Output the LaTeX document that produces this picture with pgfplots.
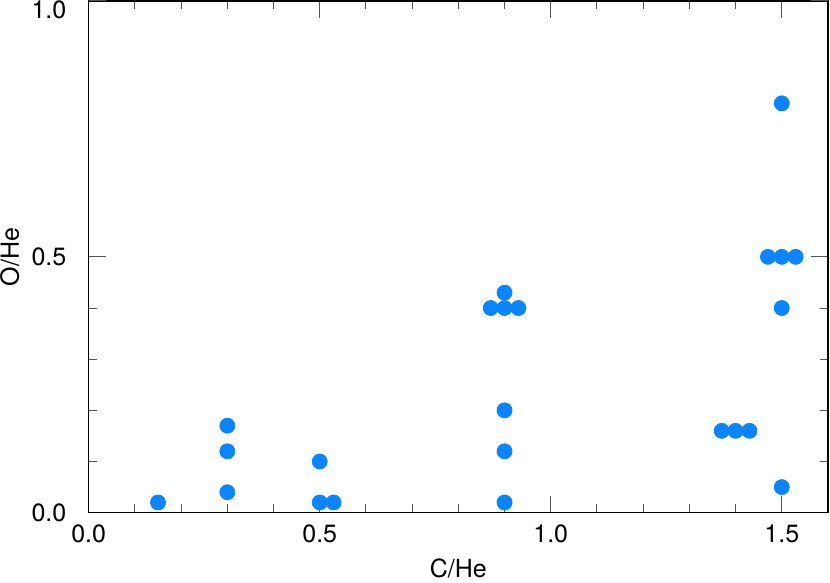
\documentclass[border=0pt]{standalone}
\usepackage{fontspec}
\setmainfont{TeX Gyre Heros}
\usepackage{pgfplots}
\pgfplotsset{compat=1.18}
\definecolor{dot}{HTML}{0A84FF}
\definecolor{tk}{HTML}{555555}

\begin{document}
\begin{tikzpicture}
\begin{axis}[scale only axis,width=369.65pt,height=255.85pt,
  xmin=0,xmax=1.6,ymin=0,ymax=1,
  xtick={0,0.5,1,1.5},ytick={0,0.5},minor x tick num=4,minor y tick num=4,
  extra y ticks={1},extra y tick style={yticklabel style={yshift=-4.5pt}},
  tick align=inside,major tick length=8.5pt,minor tick length=4.25pt,
  tick style={tk,line width=0.5pt},axis line style={black,line width=0.7pt},
  font=\fontsize{12.5}{15}\selectfont,
  /pgf/number format/assume math mode=true,
  /pgf/number format/.cd,fixed,fixed zerofill,precision=1,/pgfplots/.cd,
  xticklabel style={inner sep=0pt,yshift=-6pt},
  yticklabel style={inner sep=0pt,xshift=-11pt},
  xlabel={C/He},ylabel={O/He},
  xlabel style={at={(axis description cs:0.5,0)},anchor=base,yshift=-32.6pt},
  ylabel style={at={(axis description cs:-0.0946,0.5)},anchor=base},
  clip=false]
\addplot[dot,only marks,mark=*,mark size=3.75pt,mark options={fill=dot,draw=dot}] coordinates {
  (0.15,0.02)
  (0.3,0.04)(0.3,0.12)(0.3,0.17)
  (0.5,0.1)(0.5,0.02)(0.53,0.02)
  (0.9,0.02)(0.9,0.12)(0.9,0.2)
  (0.87,0.4)(0.9,0.4)(0.93,0.4)(0.9,0.43)
  (1.37,0.16)(1.4,0.16)(1.43,0.16)
  (1.47,0.5)(1.5,0.5)(1.53,0.5)
  (1.5,0.4)(1.5,0.8)(1.5,0.05)
};
\coordinate (bl) at (rel axis cs:0,0);
\coordinate (tr) at (rel axis cs:1,1);
\end{axis}
\pgfresetboundingbox
\path[use as bounding box] ([shift={(-44.35pt,-35.15pt)}]bl) rectangle ([shift={(1pt,0.5pt)}]tr);
\end{tikzpicture}
\end{document}
